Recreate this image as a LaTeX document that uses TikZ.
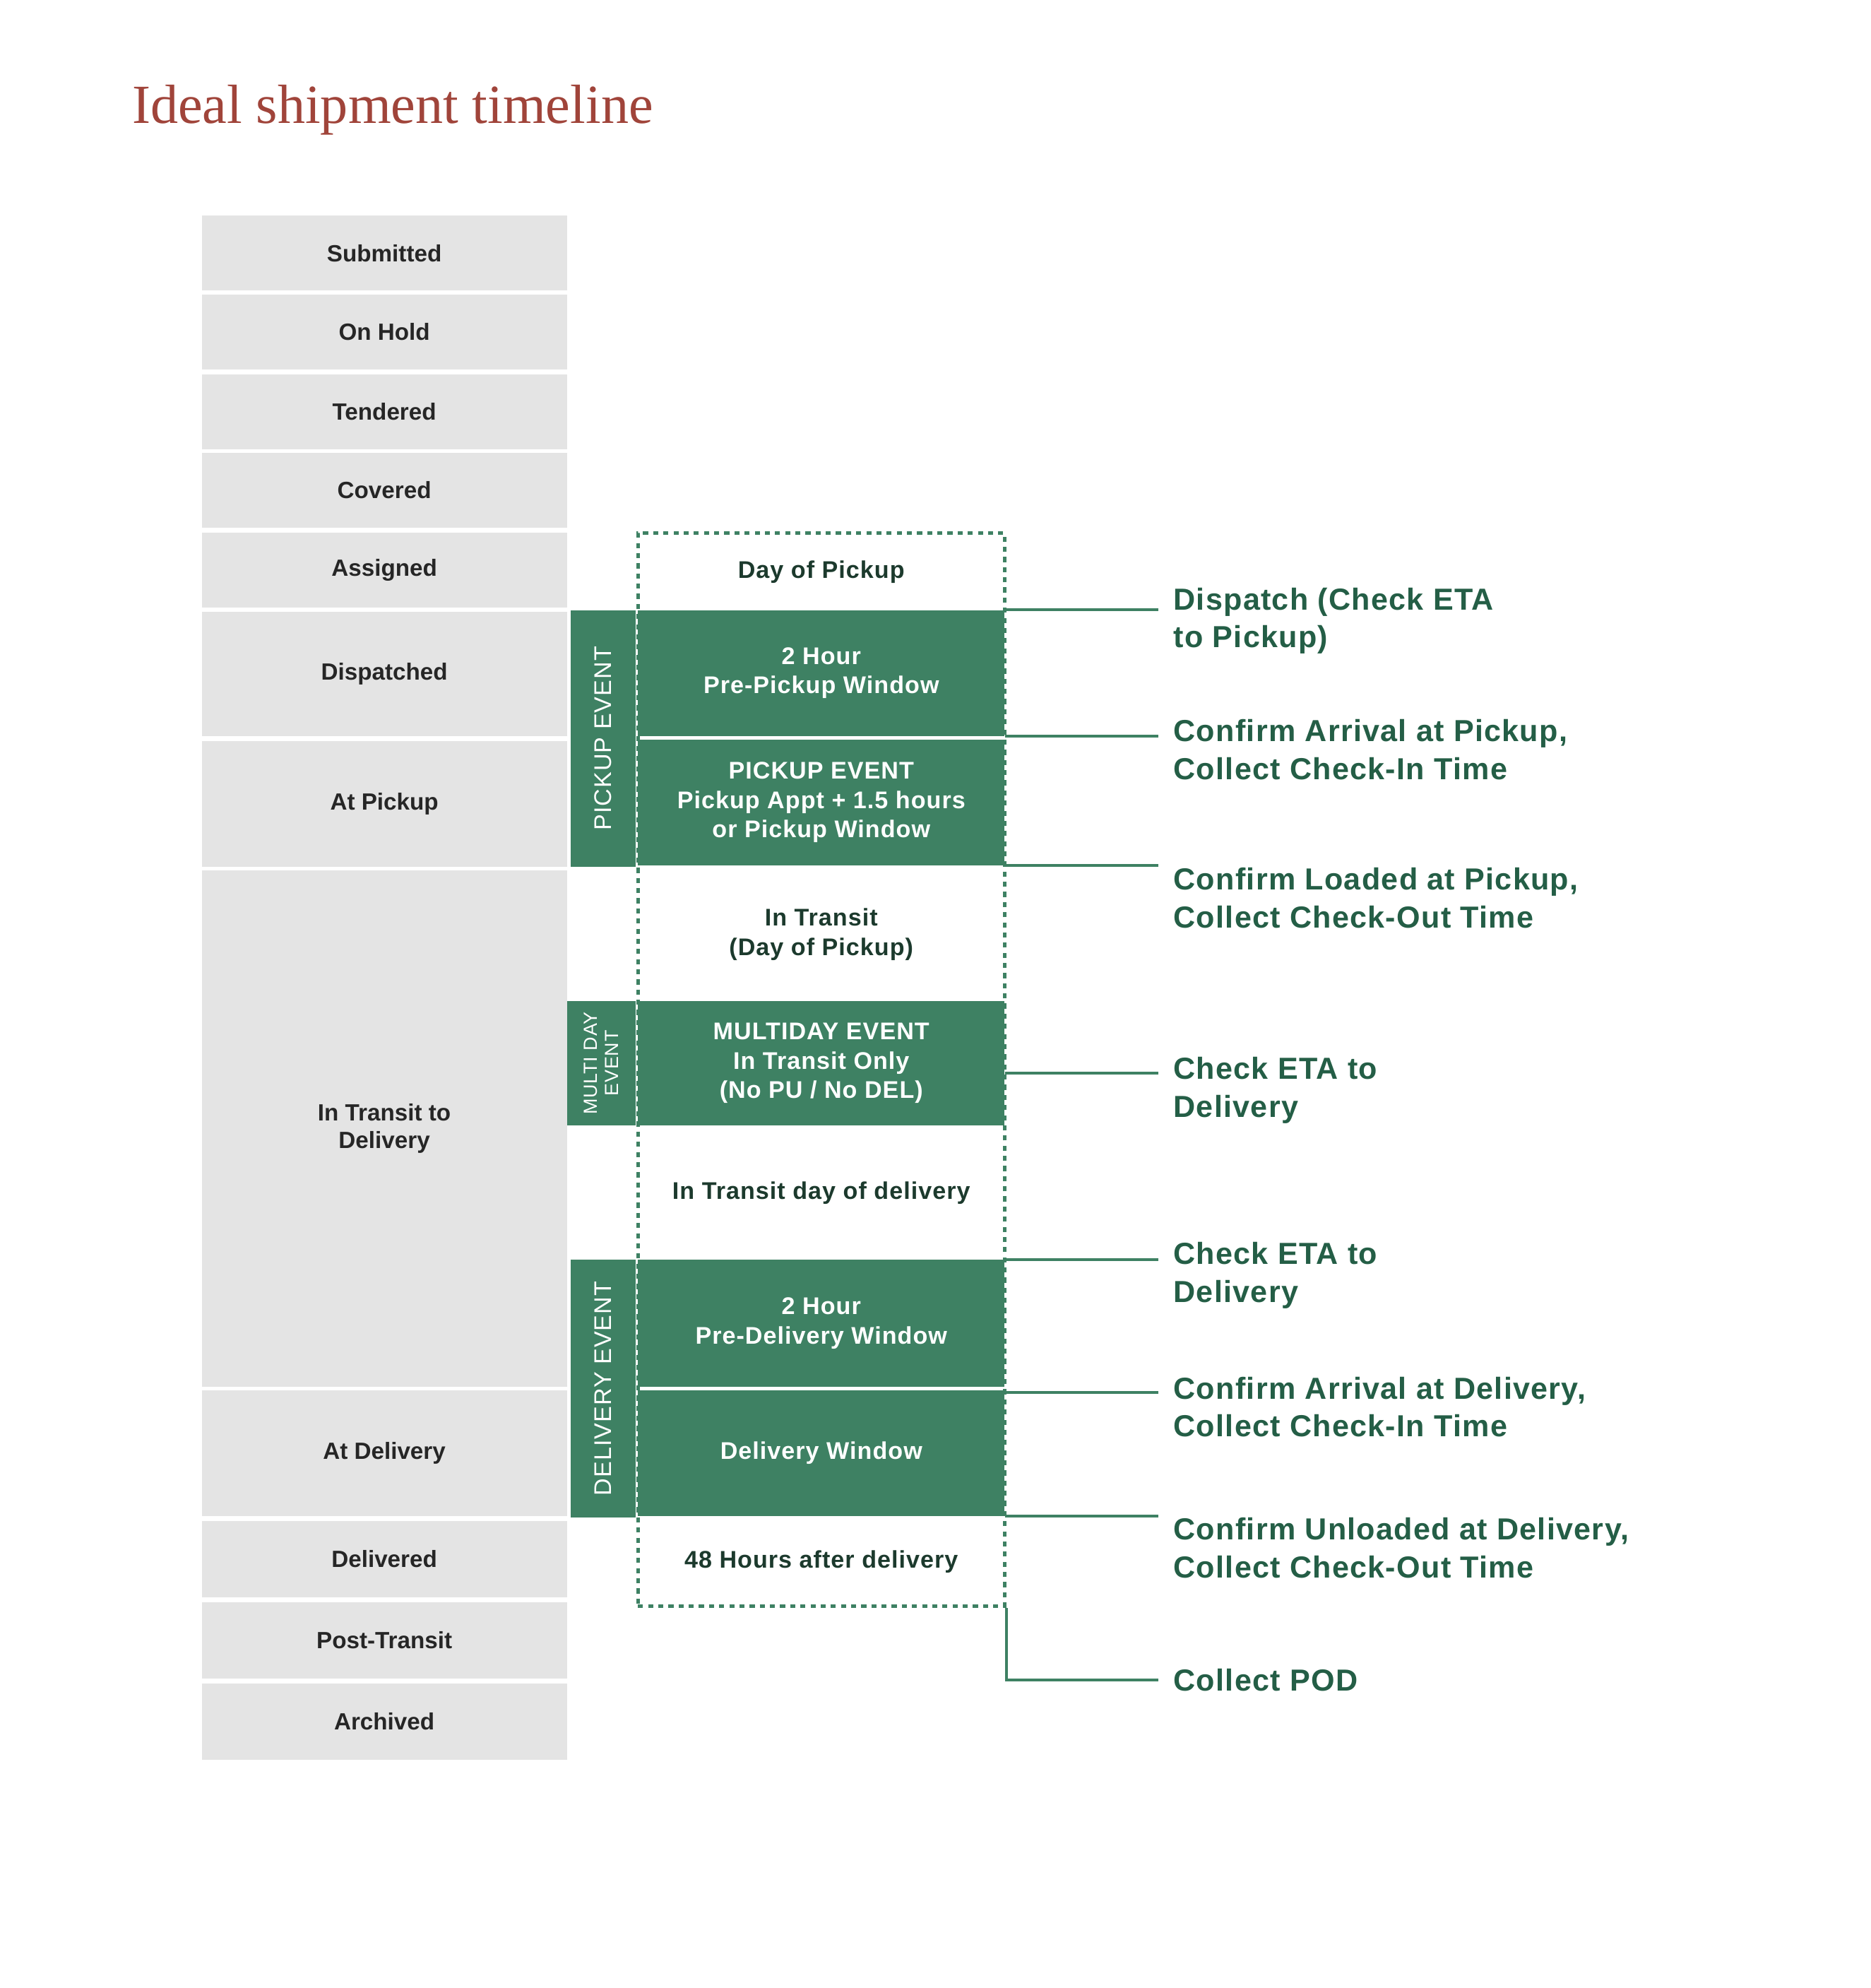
\documentclass[tikz,border=0pt]{standalone}
\usepackage{fontspec}
\setmainfont{Liberation Sans}
\newfontfamily\titlefont{Liberation Serif}
\newfontfamily\widefont{Liberation Sans}[LetterSpace=3]
\definecolor{statusgrey}{HTML}{E4E4E4}
\definecolor{statustext}{HTML}{262626}
\definecolor{eventgreen}{HTML}{3E8163}
\definecolor{darktext}{HTML}{1C3A2D}
\definecolor{notegreen}{HTML}{245E46}
\definecolor{titlered}{HTML}{A0443A}
\tikzset{
  statusbox/.style={fill=statusgrey, minimum width=288pt, inner sep=0pt, align=center,
    text=statustext, font=\fontsize{18.5}{22}\selectfont\bfseries},
  phasebox/.style={minimum width=289pt, inner sep=0pt, align=center,
    font=\widefont\fontsize{19}{23}\selectfont\bfseries},
  eventbox/.style={phasebox, fill=eventgreen, text=white},
  daybox/.style={phasebox, text=darktext},
  sidebar/.style={fill=eventgreen, text=white, inner sep=0pt, rotate=90, align=center,
    font=\widefont\fontsize{19}{23}\selectfont},
  notelabel/.style={anchor=north west, inner xsep=12pt, inner ysep=0pt, align=left,
    text=notegreen, font=\widefont\fontsize{24}{30}\selectfont\bfseries},
  notelink/.style={eventgreen, line width=2.2pt},
  dayframe/.style={draw=eventgreen, line width=3pt, dash pattern=on 4pt off 4pt,
    minimum width=289pt, minimum height=846pt, inner sep=0pt}
}
\begin{document}
\begin{tikzpicture}[x=1pt,y=-1pt]
  \useasboundingbox (0,0) rectangle (1475,1567);
  \node[anchor=base west, inner sep=0pt, text=titlered,
    font=\titlefont\fontsize{43.5}{50}\selectfont] (title) at (104,97) {Ideal shipment timeline};

  % status column
  \node[statusbox, minimum height=59pt] (submitted) at (303,199.5) {Submitted};
  \node[statusbox, minimum height=59pt] (onhold) at (303,261.5) {On Hold};
  \node[statusbox, minimum height=59pt] (tendered) at (303,324.5) {Tendered};
  \node[statusbox, minimum height=59pt] (covered) at (303,386.5) {Covered};
  \node[statusbox, minimum height=59pt] (assigned) at (303,449.5) {Assigned};
  \node[statusbox, minimum height=98pt] (dispatched) at (303,531) {Dispatched};
  \node[statusbox, minimum height=99pt] (atpickup) at (303,633.5) {At Pickup};
  \node[statusbox, minimum height=407pt] (intransit) at (303,889.5) {In Transit to\\Delivery};
  \node[statusbox, minimum height=99pt] (atdelivery) at (303,1145.5) {At Delivery};
  \node[statusbox, minimum height=60pt] (delivered) at (303,1229) {Delivered};
  \node[statusbox, minimum height=60pt] (posttransit) at (303,1293) {Post-Transit};
  \node[statusbox, minimum height=60pt] (archived) at (303,1357) {Archived};

  % event column
  \node[dayframe] (frame) at (647.5,843) {};
  \node[daybox, minimum height=60pt] (daypickup) at (647.5,451) {Day of Pickup};
  \node[eventbox, minimum height=99pt] (prepickup) at (647.5,530.5) {2 Hour\\Pre-Pickup Window};
  \node[eventbox, minimum height=99pt] (pickupev) at (647.5,632.5) {PICKUP EVENT\\Pickup Appt + 1.5 hours\\or Pickup Window};
  \node[daybox, minimum height=105pt] (transitpu) at (647.5,736.5) {In Transit\\(Day of Pickup)};
  \node[eventbox, minimum height=98pt] (multiday) at (647.5,838) {MULTIDAY EVENT\\In Transit Only\\(No PU / No DEL)};
  \node[daybox, minimum height=105pt] (transitdel) at (647.5,940.5) {In Transit day of delivery};
  \node[eventbox, minimum height=100pt] (predelivery) at (647.5,1043) {2 Hour\\Pre-Delivery Window};
  \node[eventbox, minimum height=99pt] (delwindow) at (647.5,1145.5) {Delivery Window};
  \node[daybox, minimum height=70pt] (afterdel) at (647.5,1231) {48 Hours after delivery};

  \node[sidebar, minimum width=202pt, minimum height=51pt] (pickupside) at (475.5,582) {PICKUP EVENT};
  \node[sidebar, minimum width=98pt, minimum height=54pt,
    font=\widefont\fontsize{15}{17}\selectfont] (multiside) at (474,838) {MULTI DAY\\EVENT};
  \node[sidebar, minimum width=203pt, minimum height=51pt] (deliveryside) at (475.5,1094.5) {DELIVERY EVENT};

  % notes
  \node[notelabel] (dispatch) at (913,463) {Dispatch (Check ETA\\to Pickup)};
  \node[notelabel] (arrpickup) at (913,567) {Confirm Arrival at Pickup,\\Collect Check-In Time};
  \node[notelabel] (loaded) at (913,684) {Confirm Loaded at Pickup,\\Collect Check-Out Time};
  \node[notelabel] (etadelivery) at (913,833) {Check ETA to\\Delivery};
  \node[notelabel] (etadayof) at (913,979) {Check ETA to\\Delivery};
  \node[notelabel] (arrdelivery) at (913,1085) {Confirm Arrival at Delivery,\\Collect Check-In Time};
  \node[notelabel] (unloaded) at (913,1196) {Confirm Unloaded at Delivery,\\Collect Check-Out Time};
  \node[notelabel, anchor=west] (pod) at (913,1324) {Collect POD};

  \begin{scope}[notelink]
    \draw (prepickup.north east) -- (prepickup.north east -| dispatch.west);
    \draw (prepickup.south east) -- (prepickup.south east -| arrpickup.west);
    \draw (pickupev.south east) -- (pickupev.south east -| loaded.west);
    \draw ([yshift=-8pt]multiday.east) -- ([yshift=-8pt]multiday.east -| etadelivery.west);
    \draw (predelivery.north east) -- (predelivery.north east -| etadayof.west);
    \draw ([yshift=-2pt]delwindow.north east) -- ([yshift=-2pt]delwindow.north east -| arrdelivery.west);
    \draw (delwindow.south east) -- (delwindow.south east -| unloaded.west);
    \draw (frame.south east) |- (pod.west);
  \end{scope}
\end{tikzpicture}
\end{document}
